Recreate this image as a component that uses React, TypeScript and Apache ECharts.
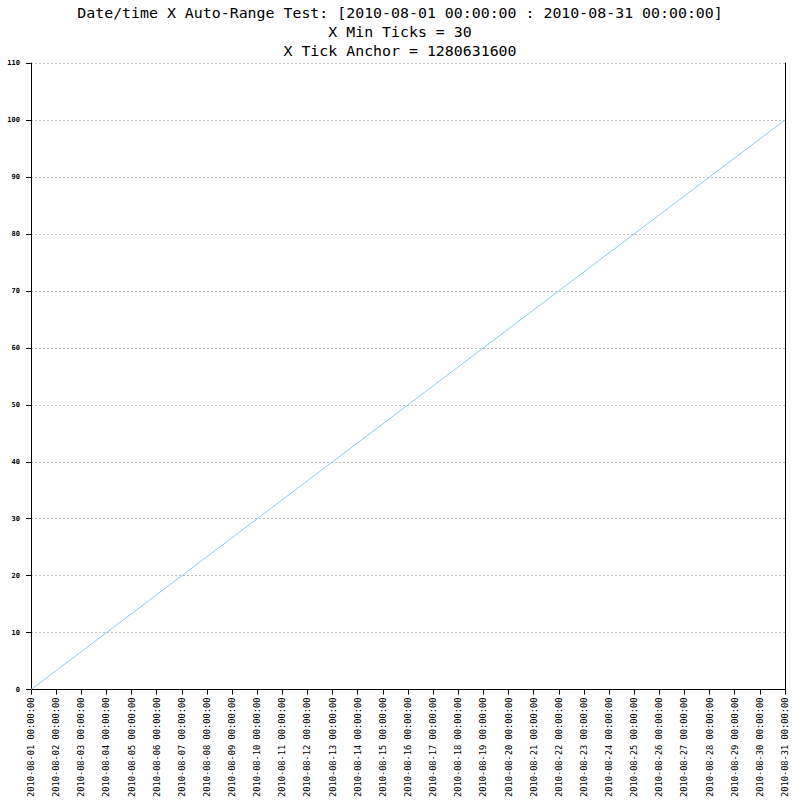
import React, { useEffect, useRef } from "react";
import * as echarts from "echarts";

const titleLines = [
  "Date/time X Auto-Range Test: [2010-08-01 00:00:00 : 2010-08-31 00:00:00]",
  "X Min Ticks = 30",
  "X Tick Anchor = 1280631600",
];
const xDates = ["2010-08-01 00:00:00", "2010-08-31 00:00:00"];
const yValues = [0, 100];
const xRange = ["2010-08-01 00:00:00", "2010-08-31 00:00:00"];
const yMin = 0;
const yMax = 110;
const yStep = 10;
const DAY = 86400000;

function parseUTC(s: string): number {
  const [d, t] = s.split(" ");
  const [Y, M, D] = d.split("-").map(Number);
  const [h, m, sec] = t.split(":").map(Number);
  return Date.UTC(Y, M - 1, D, h, m, sec);
}
function pad(n: number) {
  return n < 10 ? "0" + n : "" + n;
}
function fmt(v: number): string {
  const d = new Date(v);
  return (
    d.getUTCFullYear() + "-" + pad(d.getUTCMonth() + 1) + "-" + pad(d.getUTCDate()) +
    " " + pad(d.getUTCHours()) + ":" + pad(d.getUTCMinutes()) + ":" + pad(d.getUTCSeconds())
  );
}

export default function App() {
  const ref = useRef<HTMLDivElement>(null);
  useEffect(() => {
    if (!ref.current) return;
    const chart = echarts.init(ref.current, null, { renderer: "svg" });
    const data = xDates.map((s, i) => [parseUTC(s), yValues[i]]);
    chart.setOption({
      animation: false,
      backgroundColor: "#ffffff",
      title: {
        text: titleLines.join("\n"),
        left: "center",
        top: 3.5,
        padding: 0,
        textStyle: {
          fontFamily: "DejaVu Sans Mono",
          fontSize: 14.9,
          fontWeight: "normal",
          color: "#000",
          lineHeight: 19,
        },
      },
      grid: { left: 31, right: 15, top: 63, bottom: 110, containLabel: false },
      xAxis: {
        type: "value",
        min: parseUTC(xRange[0]),
        max: parseUTC(xRange[1]),
        interval: DAY,
        axisLine: { show: true, onZero: false, lineStyle: { color: "#000", width: 1 } },
        axisTick: { show: true, length: 5, lineStyle: { color: "#000" } },
        splitLine: { show: false },
        axisLabel: {
          rotate: 90,
          margin: 8,
          formatter: (v: number) => fmt(v),
          fontFamily: "DejaVu Sans Mono",
          fontSize: 8.7,
          color: "#000",
          showMinLabel: true,
          showMaxLabel: true,
        },
      },
      yAxis: [
        {
          type: "value",
          min: yMin,
          max: yMax,
          interval: yStep,
          axisLine: { show: true, lineStyle: { color: "#000", width: 1 } },
          axisTick: { show: true, length: 5, lineStyle: { color: "#000" } },
          splitLine: { show: true, lineStyle: { color: "#c0c0c0", type: [2, 2], width: 1 } },
          axisLabel: {
            margin: 11,
            fontFamily: "DejaVu Sans Mono",
            fontSize: 7,
            fontWeight: "bold",
            color: "#000",
          },
        },
        {
          type: "value",
          min: yMin,
          max: yMax,
          interval: yStep,
          position: "right",
          axisLine: { show: true, lineStyle: { color: "#000", width: 1 } },
          axisTick: { show: false },
          splitLine: { show: false },
          axisLabel: { show: false },
        },
      ],
      series: [
        {
          type: "line",
          data,
          yAxisIndex: 0,
          showSymbol: false,
          symbol: "none",
          lineStyle: { color: "#87ceeb", width: 1 },
        },
      ],
    });
    return () => chart.dispose();
  }, []);
  return <div ref={ref} style={{ width: 800, height: 800, position: "absolute", left: 0, top: 0 }} />;
}
